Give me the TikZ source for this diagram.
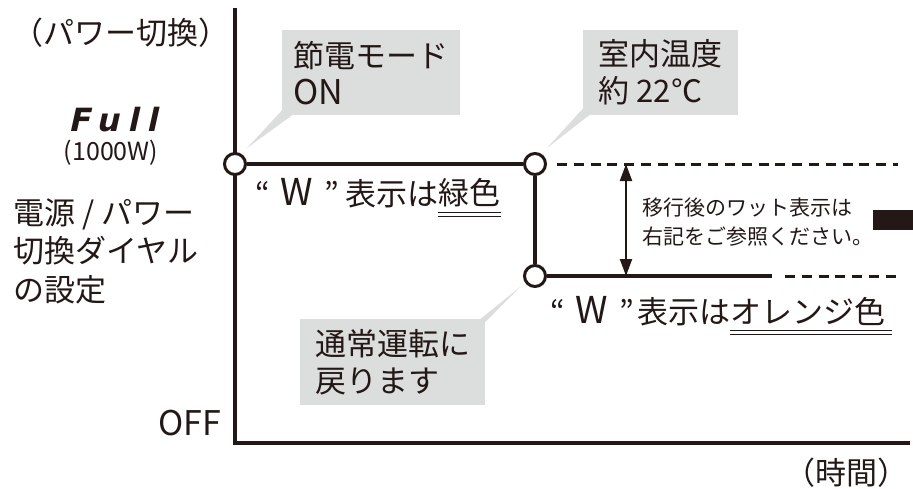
\documentclass[tikz,border=0pt]{standalone}
\usepackage{fontspec}
\usetikzlibrary{arrows.meta,calc}

\newfontfamily\jpfont{Noto Sans CJK JP}
\newfontfamily\segfont[FakeSlant=0.22,LetterSpace=24]{DejaVu Sans}

\definecolor{ink}{RGB}{35,24,21}
\definecolor{balloon}{RGB}{220,221,221}

\begin{document}
\begin{tikzpicture}[x=1pt, y=-1pt, >={Triangle[width=12pt,length=17pt]},
    every node/.style={text=ink, inner sep=0pt},
    big/.style={font=\jpfont\fontsize{31}{37}\selectfont},
    small/.style={font=\jpfont\fontsize{21}{29}\selectfont},
    bubble/.style={big, fill=balloon, align=left, anchor=north west},
    dot/.style={circle, draw=ink, fill=white, line width=3pt, minimum size=21pt},
    level/.style={draw=ink, line width=3.5pt},
    guide/.style={draw=ink, line width=3pt, dash pattern=on 10pt off 6.8pt},
    dbl/.style={draw=ink, line width=1pt}]

    \useasboundingbox (0,0) rectangle (913,488);

    % axes
    \coordinate (top) at (235,8);
    \coordinate (origin) at (235,443);
    \coordinate (tend) at (910,443);
    \draw[ink, line width=4pt] (top) -- (origin) -- (tend);

    % axis labels
    \node[big] (mode) at (121,33) {（パワー切換）};
    \node[font=\segfont\bfseries\fontsize{32}{32}\selectfont, text depth=0pt, anchor=base] (full) at (113,131) {Full};
    \node[font=\jpfont\fontsize{25}{25}\selectfont, text height=17pt, anchor=base] (watt) at (111,160) {(1000W)};
    \node[big, align=left, anchor=west, font=\jpfont\fontsize{31}{38.5}\selectfont] (dial) at (13,251) {電源 / パワー\\切換ダイヤル\\の設定};
    \node[big, anchor=east, font=\jpfont\fontsize{34}{34}\selectfont] (off) at (221,423) {OFF};
    \node[big, anchor=east] (time) at (909,473) {（時間）};

    % switch points
    \node[dot] (on) at (235,164) {};
    \node[dot] (warm) at (535,164) {};
    \node[dot] (back) at (535,276) {};

    \coordinate (hiend) at (898,164);
    \coordinate (lowend) at (772,276);
    \coordinate (loend) at (898,276);

    \draw[level] (on) -- (warm);
    \draw[level] (warm) -- (back);
    \draw[level] (back) -- (lowend);
    \draw[guide] ([xshift=10pt]warm.east) -- (hiend);
    \draw[guide] ([xshift=13pt]lowend) -- (loend);

    % drop of the wattage
    \coordinate (gaptop) at (626,164);
    \coordinate (gapbot) at (626,276);
    \draw[<->, ink, line width=2pt] (gaptop) -- (gapbot);
    \node[small, align=left, anchor=west] (note) at (642,222) {移行後のワット表示は\\右記をご参照ください。};
    \fill[ink] (873,210) rectangle (913,230);

    % display colour
    \node[big, anchor=west] (wgreen) at (255,193) {“\hspace{11pt}{\fontsize{37}{37}\selectfont W}\hspace{11pt}”\hspace{6pt}表示は};
    \node[big, anchor=west] (green) at (wgreen.east) {緑色};
    \draw[dbl] ([yshift=-8pt]green.base west) -- ([yshift=-8pt]green.base east);
    \draw[dbl] ([yshift=-12pt]green.base west) -- ([yshift=-12pt]green.base east);

    \node[big, anchor=west] (worange) at (550,311) {“\hspace{11pt}{\fontsize{37}{37}\selectfont W}\hspace{11pt}”\hspace{3pt}表示は};
    \node[big, anchor=west] (orange) at (worange.east) {オレンジ色};
    \draw[dbl] ([yshift=-7pt]orange.base west) -- ([yshift=-7pt,xshift=6pt]orange.base east);
    \draw[dbl] ([yshift=-11pt]orange.base west) -- ([yshift=-11pt,xshift=6pt]orange.base east);

    % callouts
    \node[bubble, minimum width=178pt, minimum height=85pt] (eco) at (282,30) {節電モード\\{\fontsize{34}{37}\selectfont ON}};
    \fill[balloon] ([yshift=5pt]eco.south west) -- ($(on)+(12,-16)$) -- ([xshift=10pt]eco.south west) -- cycle;

    \node[bubble, minimum width=155pt, minimum height=85pt] (room) at (583,30) {室内温度\\約 22℃};
    \fill[balloon] ([yshift=7pt]room.south west) -- ($(warm)+(12,-16)$) -- ([xshift=6pt]room.south west) -- cycle;

    \node[bubble, minimum width=185pt, minimum height=86pt] (normal) at (300,319) {通常運転に\\戻ります};
    \fill[balloon] ([xshift=-5pt]normal.north east) -- ($(back)+(-15,11)$) -- ([yshift=-3pt]normal.north east) -- cycle;

\end{tikzpicture}
\end{document}
